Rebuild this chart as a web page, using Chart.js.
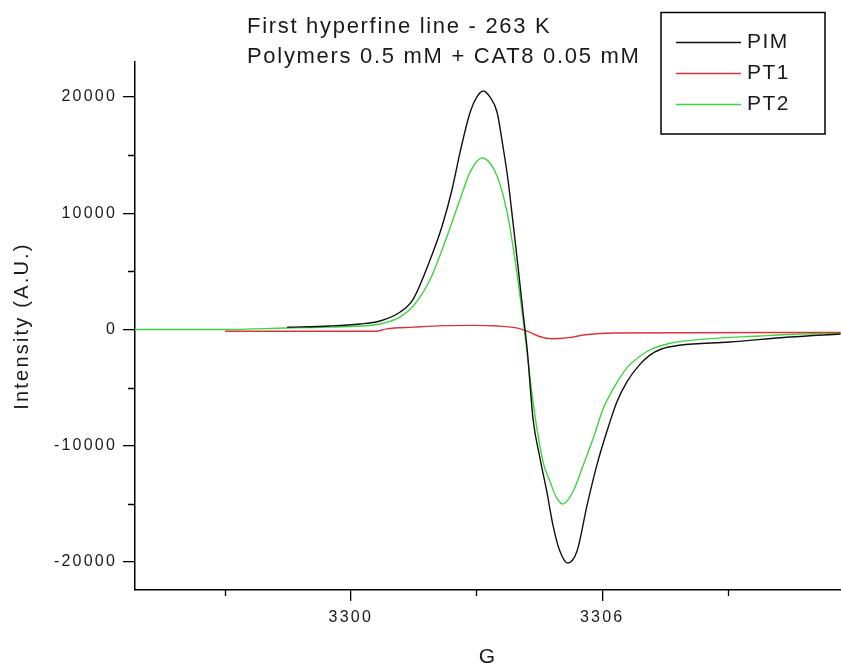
<!DOCTYPE html>
<html>
<head>
<meta charset="utf-8">
<title>First hyperfine line - 263 K</title>
<script src="https://cdn.jsdelivr.net/npm/chart.js@4.4.1/dist/chart.umd.min.js"></script>
<style>
  html, body { margin: 0; padding: 0; background: #fff; overflow: hidden; }
  #wrap { position: relative; width: 841px; height: 670px; }
</style>
</head>
<body>
<div id="wrap"><canvas id="eprChart"></canvas></div>
<script>
const titleLines = ['First hyperfine line - 263 K', 'Polymers 0.5 mM + CAT8 0.05 mM'];
const seriesNames = ['PIM', 'PT1', 'PT2'];
const seriesColors = ['#111111', '#d9343a', '#3fd43f'];

// field in G, intensity in A.U.
const pimField = [3298.48, 3299.5, 3300.22, 3300.70, 3301.18, 3301.49, 3301.90, 3302.18, 3302.42, 3302.61,
  3302.85, 3303.01, 3303.16, 3303.32, 3303.49, 3303.63, 3303.75, 3303.87, 3303.99, 3304.11,
  3304.21, 3304.35, 3304.52, 3304.68, 3304.83, 3304.99, 3305.18, 3305.40, 3305.64, 3305.87,
  3306.11, 3306.35, 3306.59, 3306.90, 3307.14, 3307.40, 3307.85, 3309.04, 3310.47, 3311.69];
const pimIntensity = [200, 300, 470, 730, 1500, 2620, 6060, 8900, 12080, 15270,
  18700, 20000, 20510, 20000, 18700, 15780, 12940, 9250, 5460, 1500,
  -1700, -7700, -11140, -13970, -16900, -19050, -20080, -19050, -15100, -11700,
  -8800, -6240, -4500, -3000, -2200, -1700, -1350, -1080, -650, -390];

const pt1Field = [3297.0, 3299.0, 3300.6, 3300.85, 3301.5, 3302.2, 3302.9, 3303.5, 3304.0, 3304.25,
  3304.5, 3304.8, 3305.2, 3305.6, 3306.3, 3308.0, 3311.69];
const pt1Intensity = [-150, -150, -150, 50, 200, 330, 350, 300, 100, -200,
  -600, -800, -700, -450, -300, -280, -250];

const pt2Field = [3294.85, 3297.0, 3298.48, 3299.5, 3300.22, 3300.70, 3301.18, 3301.49, 3301.90, 3302.30,
  3302.61, 3302.85, 3303.13, 3303.49, 3303.73, 3303.87, 3304.04, 3304.16, 3304.35, 3304.59,
  3304.76, 3304.90, 3305.06, 3305.30, 3305.54, 3305.78, 3306.02, 3306.26, 3306.59, 3306.90,
  3307.20, 3307.60, 3308.33, 3309.76, 3310.72, 3311.69];
const pt2Intensity = [0, 0, 130, 200, 300, 470, 1080, 2020, 4340, 8040,
  11220, 13550, 14750, 13200, 10100, 7180, 2880, -560, -6240, -11400,
  -13110, -14400, -15000, -13970, -11740, -9420, -6840, -5120, -3300, -2300,
  -1650, -1200, -850, -560, -390, -300];

const xMajorTicks = [3300, 3306];
const xMinorTicks = [3297, 3303, 3309];
const yMajorTicks = [-20000, -10000, 0, 10000, 20000];
const yMinorTicks = [-15000, -5000, 5000, 15000];

const FONT = '"Liberation Sans", Arial, sans-serif';

function toPoints(xs, ys) {
  return xs.map((x, i) => ({ x: x, y: ys[i] }));
}

// origin-style extras: minor ticks, text block and boxed legend
const originExtras = {
  id: 'originExtras',
  beforeDraw(chart) {
    chart.ctx.letterSpacing = '2.2px';
  },
  afterDraw(chart) {
    const ctx = chart.ctx;
    const xs = chart.scales.x;
    const ys = chart.scales.y;
    ctx.save();
    ctx.strokeStyle = '#000';
    ctx.lineWidth = 1.3;
    ctx.beginPath();
    yMinorTicks.forEach(v => {
      const p = Math.round(ys.getPixelForValue(v)) + 0.5;
      ctx.moveTo(ys.right - 7, p);
      ctx.lineTo(ys.right, p);
    });
    xMinorTicks.forEach(v => {
      const p = Math.round(xs.getPixelForValue(v)) + 0.5;
      ctx.moveTo(p, xs.top);
      ctx.lineTo(p, xs.top + 6);
    });
    ctx.stroke();

    ctx.fillStyle = '#1a1a1a';
    ctx.textAlign = 'left';
    ctx.textBaseline = 'alphabetic';
    ctx.font = '22px ' + FONT;
    ctx.letterSpacing = '1.7px';
    ctx.fillText(titleLines[0], 247, 33);
    ctx.fillText(titleLines[1], 247, 63);

    // legend box
    ctx.lineWidth = 1.5;
    ctx.strokeStyle = '#000';
    ctx.strokeRect(661, 12.5, 164, 121.5);
    ctx.font = '21px ' + FONT;
    ctx.letterSpacing = '1.5px';
    chart.data.datasets.forEach((ds, i) => {
      const y = 42 + i * 31;
      ctx.strokeStyle = ds.borderColor;
      ctx.lineWidth = 1.4;
      ctx.beginPath();
      ctx.moveTo(676, y + 0.5);
      ctx.lineTo(741, y + 0.5);
      ctx.stroke();
      ctx.fillText(ds.label, 747, y + 6);
    });
    ctx.restore();
  }
};

const datasets = [
  { label: seriesNames[0], data: toPoints(pimField, pimIntensity), borderColor: seriesColors[0] },
  { label: seriesNames[1], data: toPoints(pt1Field, pt1Intensity), borderColor: seriesColors[1] },
  { label: seriesNames[2], data: toPoints(pt2Field, pt2Intensity), borderColor: seriesColors[2] }
].map(ds => Object.assign(ds, {
  borderWidth: 1.4,
  pointRadius: 0,
  fill: false,
  cubicInterpolationMode: 'monotone'
}));

new Chart(document.getElementById('eprChart'), {
  type: 'line',
  data: { datasets: datasets },
  options: {
    responsive: true,
    maintainAspectRatio: false,
    animation: false,
    events: [],
    layout: { padding: { top: 62, left: 0, right: 0, bottom: 0 } },
    plugins: {
      legend: { display: false },
      title: { display: false },
      tooltip: { enabled: false }
    },
    scales: {
      x: {
        type: 'linear',
        min: 3294.85,
        max: 3311.7,
        afterFit(scale) { scale.height = 80; },
        afterBuildTicks(scale) { scale.ticks = xMajorTicks.map(v => ({ value: v })); },
        border: { display: true, color: '#000', width: 1.5 },
        grid: { drawOnChartArea: false, color: '#000', lineWidth: 1.3, tickLength: 11 },
        ticks: {
          padding: 7,
          color: '#1a1a1a',
          font: { family: FONT, size: 16 },
          maxRotation: 0,
          callback: v => String(v)
        },
        title: {
          display: true,
          text: 'G',
          color: '#1a1a1a',
          font: { family: FONT, size: 21 },
          padding: { top: 0, bottom: 0 }
        }
      },
      y: {
        min: -22400,
        max: 23000,
        afterFit(scale) { scale.width = 135; },
        afterBuildTicks(scale) { scale.ticks = yMajorTicks.map(v => ({ value: v })); },
        border: { display: true, color: '#000', width: 1.5 },
        grid: { drawOnChartArea: false, color: '#000', lineWidth: 1.3, tickLength: 12 },
        ticks: {
          padding: 6,
          color: '#1a1a1a',
          font: { family: FONT, size: 16 },
          callback: v => String(v)
        },
        title: {
          display: true,
          text: 'Intensity (A.U.)',
          color: '#1a1a1a',
          font: { family: FONT, size: 20 },
          padding: { top: 10, bottom: 0 }
        }
      }
    }
  },
  plugins: [originExtras]
});
</script>
</body>
</html>
